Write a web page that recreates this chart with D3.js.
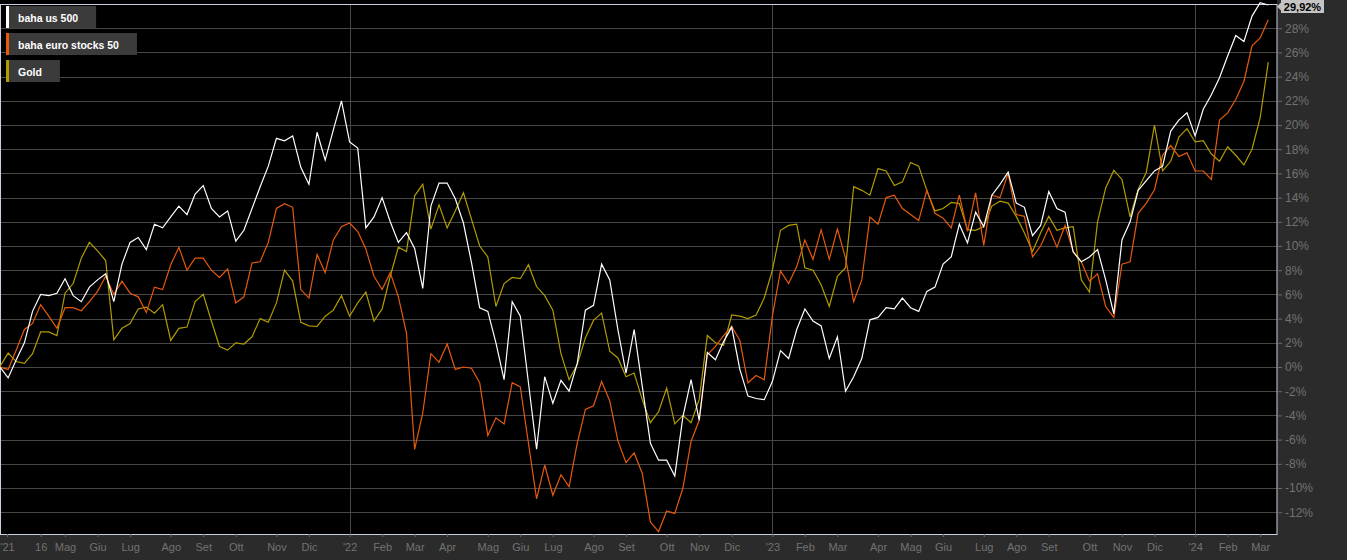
<!DOCTYPE html>
<html>
<head>
<meta charset="utf-8">
<script src="https://cdn.jsdelivr.net/npm/d3@7"></script>
<style>
  body { margin: 0; background: #2b2b2b; overflow: hidden; }
  svg { display: block; font-family: "Liberation Sans", Arial, sans-serif; }
</style>
</head>
<body>
<svg id="chart"></svg>
<script>
// weekly closes (friday), % change since the first week
const startDate = "2021-03-12";

const usValues = [
  0, -0.9, 0.6, 2.0, 4.6, 6.0, 5.9, 6.1, 7.3, 5.9,
  5.4, 6.6, 7.2, 7.7, 5.4, 8.5, 10.3, 10.7, 9.7, 11.8,
  11.5, 12.4, 13.3, 12.6, 14.3, 15.0, 13.1, 12.4, 12.9, 10.4,
  11.3, 13.1, 14.9, 16.6, 18.9, 18.7, 19.1, 16.5, 15.1, 19.4,
  17.1, 19.6, 22.0, 18.6, 18.1, 11.5, 12.4, 14.0, 12.0, 10.3,
  11.1, 9.8, 6.5, 13.3, 15.2, 15.2, 13.9, 11.9, 8.6, 4.9,
  4.6, 2.0, -1.05, 5.4, 4.2, -1.3, -6.8, -0.8, -3.0, -1.1,
  -2.0, 0.3, 4.7, 5.1, 8.5, 7.2, 3.1, -0.5, 3.1, -1.6,
  -6.3, -7.7, -7.7, -9.0, -4.1, -1.05, -4.4, 1.2, 0.6, 2.1,
  3.3, -0.2, -2.4, -2.6, -2.7, -1.2, 1.35, 0.7, 3.1, 4.8,
  3.8, 3.4, 0.7, 2.5, -2.0, -0.8, 0.7, 3.9, 4.1, 4.9,
  4.8, 5.7, 4.9, 4.6, 6.25, 6.6, 8.5, 9.1, 11.8, 10.25,
  12.8, 11.6, 14.2, 15.1, 16.1, 13.55, 13.2, 10.85, 11.7, 14.5,
  13.1, 12.8, 9.5, 8.7, 9.1, 9.7, 7.2, 4.4, 10.5, 12.0,
  14.6, 15.4, 16.2, 16.6, 19.5, 20.4, 21.0, 19.1, 21.3, 22.5,
  23.9, 25.7, 27.4, 26.9, 29.0, 30.1, 29.92
];

const euroValues = [
  0, -0.2, 1.4, 3.1, 3.6, 5.15, 4.2, 3.2, 4.9, 4.9,
  4.65, 5.4, 6.25, 7.5, 6.0, 7.1, 6.1, 5.8, 4.5, 6.6,
  6.4, 8.45, 9.9, 8.0, 9.0, 9.0, 8.0, 7.4, 8.1, 5.3,
  5.8, 8.6, 8.7, 10.3, 13.1, 13.5, 13.2, 6.4, 5.7, 9.3,
  7.8, 10.5, 11.6, 11.9, 11.2, 9.75, 7.5, 6.4, 7.8, 5.8,
  2.8, -6.8, -3.8, 1.1, 0.4, 1.9, -0.2, 0.0, -0.1, -1.3,
  -5.65, -4.2, -4.7, -1.3, -1.65, -6.3, -10.9, -8.1, -10.6, -8.9,
  -9.9, -6.3, -3.5, -3.2, -1.2, -2.8, -6.1, -7.9, -7.1, -8.8,
  -12.8, -13.6, -11.9, -12.1, -10.0, -6.15, -4.4, 1.0, 1.7, 2.6,
  3.35, 2.2, -1.3, -0.7, -1.05, 4.2, 7.95, 6.9, 8.3, 10.5,
  8.9, 11.35, 8.9, 11.4, 9.0, 5.4, 7.2, 12.4, 11.8, 14.0,
  14.2, 13.1, 12.6, 12.1, 14.6, 12.7, 12.3, 11.5, 14.2, 11.2,
  14.4, 10.05, 14.2, 14.0, 16.0, 12.6, 12.45, 9.1, 10.0, 11.5,
  9.9, 11.7, 9.55, 8.7, 7.1, 7.7, 5.0, 4.1, 8.5, 8.7,
  12.7, 13.55, 14.65, 17.5, 18.3, 17.4, 17.7, 16.2, 16.2, 15.5,
  20.4, 21.0, 22.1, 23.6, 26.55, 27.2, 28.7
];

const goldValues = [
  0.05, 1.15, 0.45, 0.3, 1.1, 2.9, 2.9, 2.6, 6.1, 6.9,
  9.0, 10.3, 9.6, 8.8, 2.25, 3.2, 3.6, 4.8, 4.95, 4.45,
  5.15, 2.2, 3.2, 3.3, 5.4, 6.0, 3.8, 1.7, 1.4, 2.0,
  1.9, 2.5, 4.0, 3.7, 5.3, 8.0, 7.1, 3.7, 3.4, 3.35,
  4.2, 4.7, 5.9, 4.2, 5.3, 6.2, 3.8, 4.8, 7.5, 9.9,
  9.55, 14.15, 15.1, 11.4, 13.4, 11.5, 12.9, 14.4, 12.2, 10.0,
  9.1, 5.0, 6.9, 7.4, 7.3, 8.45, 6.65, 5.9, 4.7, 1.1,
  -1.05, 0.2, 2.4, 3.85, 4.45, 1.3, 0.75, -0.8, -0.5, -2.7,
  -4.6, -3.7, -1.75, -4.7, -4.0, -4.6, -2.7, 2.6, 2.0, 1.8,
  4.3, 4.2, 4.0, 4.3, 5.7, 8.0, 11.3, 11.7, 11.8, 8.2,
  8.0, 6.8, 5.0, 7.5, 8.2, 14.9, 14.6, 14.2, 16.4, 16.2,
  15.0, 15.3, 16.9, 16.6, 14.6, 12.9, 13.1, 13.6, 13.5, 11.35,
  11.3, 11.6, 13.3, 13.7, 13.55, 12.45, 11.1, 9.55, 11.1, 12.45,
  11.3, 11.5, 11.6, 7.2, 6.2, 12.0, 14.8, 16.25, 15.5, 12.4,
  14.7, 16.1, 20.0, 16.2, 17.0, 19.0, 19.7, 18.6, 18.7, 17.6,
  17.0, 18.2, 17.5, 16.7, 18.0, 20.6, 25.2
];

const seriesNames = ["baha us 500", "baha euro stocks 50", "Gold"];

const tickDates = [
  "2021-03-18", "2021-04-16", "2021-05-07", "2021-06-04", "2021-07-02", "2021-08-06",
  "2021-09-03", "2021-10-01", "2021-11-05", "2021-12-03", "2022-01-07", "2022-02-04",
  "2022-03-04", "2022-04-01", "2022-05-06", "2022-06-03", "2022-07-01", "2022-08-05",
  "2022-09-02", "2022-10-07", "2022-11-04", "2022-12-02", "2023-01-06", "2023-02-03",
  "2023-03-03", "2023-04-07", "2023-05-05", "2023-06-02", "2023-07-07", "2023-08-04",
  "2023-09-01", "2023-10-06", "2023-11-03", "2023-12-01", "2024-01-05", "2024-02-02",
  "2024-03-01"
];
const tickLabels = [
  "'21", "16", "Mag", "Giu", "Lug", "Ago", "Set", "Ott", "Nov", "Dic", "'22", "Feb",
  "Mar", "Apr", "Mag", "Giu", "Lug", "Ago", "Set", "Ott", "Nov", "Dic", "'23", "Feb",
  "Mar", "Apr", "Mag", "Giu", "Lug", "Ago", "Set", "Ott", "Nov", "Dic", "'24", "Feb",
  "Mar"
];
const yearTicks = ["2022-01-07", "2023-01-06", "2024-01-05"];
const yTicks = [-12, -10, -8, -6, -4, -2, 0, 2, 4, 6, 8, 10, 12, 14, 16, 18, 20, 22, 24, 26, 28];
const lastLabel = "29,92%";

let width = 1347;
let height = 560;
let plotRight = 1277;
let plotTop = 4;
let plotBottom = 534;
let colors = ["#ffffff", "#e65a0c", "#b09c00"];

let parse = d3.utcParse("%Y-%m-%d");
let start = parse(startDate);
let dates = usValues.map((d, i) => d3.utcDay.offset(start, 7 * i));

let xScale = d3.scaleUtc()
  .domain([start, new Date(Date.UTC(2024, 2, 15, 12))])
  .range([0, plotRight]);
let yScale = d3.scaleLinear().domain([-13.8, 30]).range([plotBottom, plotTop]);

let svg = d3.select("#chart").attr("width", width).attr("height", height);

svg.append("rect")
  .attr("width", width).attr("height", height).attr("fill", "#2b2b2b");
svg.append("rect")
  .attr("x", 0).attr("y", 0)
  .attr("width", plotRight).attr("height", plotBottom)
  .attr("fill", "#000");

// horizontal grid
svg.append("g")
  .selectAll("line")
  .data(yTicks)
  .enter()
  .append("line")
  .attr("x1", 0).attr("x2", plotRight)
  .attr("y1", (d) => Math.round(yScale(d)) + 0.5)
  .attr("y2", (d) => Math.round(yScale(d)) + 0.5)
  .attr("stroke", "#474747");

// year separators
svg.append("g")
  .selectAll("line")
  .data(yearTicks.map(parse))
  .enter()
  .append("line")
  .attr("x1", (d) => Math.round(xScale(d)) + 0.5)
  .attr("x2", (d) => Math.round(xScale(d)) + 0.5)
  .attr("y1", plotTop).attr("y2", plotBottom)
  .attr("stroke", "#474747");

// plot frame
svg.append("rect")
  .attr("x", 0.5).attr("y", plotTop + 0.5)
  .attr("width", plotRight - 0.5).attr("height", plotBottom - plotTop)
  .attr("fill", "none")
  .attr("stroke", "#c9d0e0");

// right axis
let yAxis = svg.append("g")
  .attr("transform", "translate(" + plotRight + ",0)")
  .call(d3.axisRight(yScale).tickValues(yTicks).tickFormat((d) => d + "%").tickSize(5).tickPadding(3));
yAxis.select(".domain").remove();
yAxis.selectAll("line").attr("stroke", "#6a6a6a");
yAxis.selectAll("text").attr("fill", "#727272").style("font-size", "12px");

// bottom axis
let xAxis = svg.append("g")
  .attr("transform", "translate(0," + plotBottom + ")")
  .call(d3.axisBottom(xScale)
    .tickValues(tickDates.map(parse))
    .tickFormat((d, i) => tickLabels[i])
    .tickSize(3).tickPadding(6));
xAxis.select(".domain").remove();
xAxis.selectAll("line").attr("stroke", "#6a6a6a");
xAxis.selectAll("text").attr("fill", "#727272").style("font-size", "11px");

// series lines, last one drawn on top
let allSeries = [usValues, euroValues, goldValues];
let line = d3.line()
  .x((d, i) => xScale(dates[i]))
  .y((d) => yScale(d));

[2, 1, 0].forEach(function (k) {
  svg.append("path")
    .datum(allSeries[k])
    .attr("d", line)
    .attr("fill", "none")
    .attr("stroke", colors[k])
    .attr("stroke-width", 1.2)
    .attr("stroke-linejoin", "miter");
});

// last value marker
let lastY = yScale(usValues[usValues.length - 1]);
let tag = svg.append("g").attr("transform", "translate(" + (plotRight + 3) + "," + Math.max(lastY, 6.5) + ")");
tag.append("path")
  .attr("d", "M-3,0 L1,-4 L1,4 Z")
  .attr("fill", "#c4c4c4");
tag.append("rect")
  .attr("x", 1).attr("y", -6.5)
  .attr("width", 43).attr("height", 13)
  .attr("fill", "#c4c4c4");
tag.append("text")
  .attr("x", 22.5).attr("y", 4)
  .attr("text-anchor", "middle")
  .attr("fill", "#000")
  .style("font-size", "11px")
  .style("font-weight", "bold")
  .text(lastLabel);

// legend
let legend = svg.append("g");
seriesNames.forEach(function (name, i) {
  let g = legend.append("g").attr("transform", "translate(6," + (6 + i * 27) + ")");
  let box = g.append("rect").attr("height", 22).attr("fill", "#3b3b3b");
  g.append("rect").attr("width", 3).attr("height", 22).attr("fill", colors[i]);
  let t = g.append("text")
    .attr("x", 12).attr("y", 15.5)
    .attr("fill", "#fff")
    .style("font-size", "10.5px")
    .style("font-weight", "bold")
    .text(name);
  box.attr("width", 12 + t.node().getComputedTextLength() + 18);
});
</script>
</body>
</html>
